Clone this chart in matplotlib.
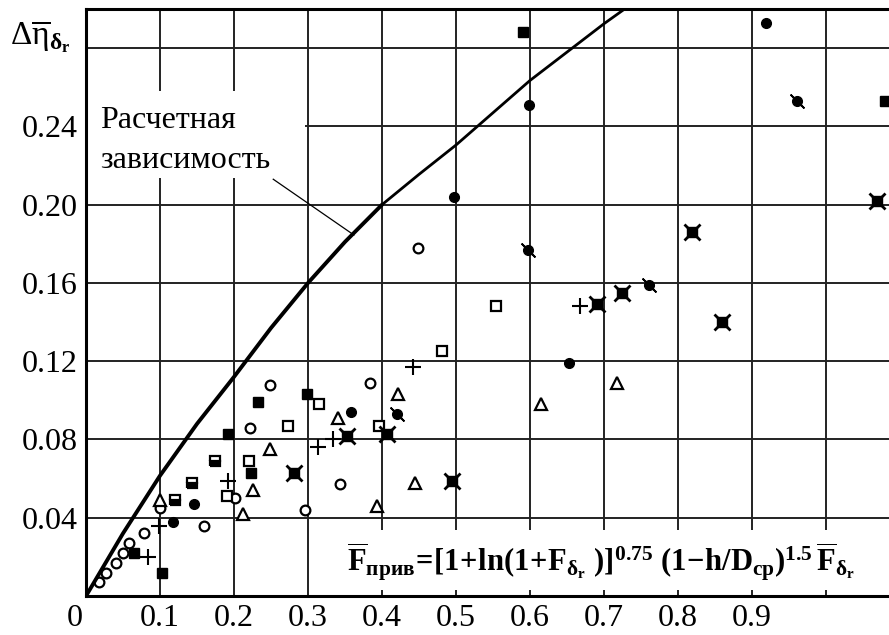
import matplotlib
matplotlib.use("Agg")
import matplotlib.pyplot as plt
from matplotlib.patches import Rectangle
from matplotlib.transforms import ScaledTranslation

plt.rcParams['font.family'] = ['Liberation Serif', 'DejaVu Serif']
plt.rcParams['mathtext.fontset'] = 'custom'
plt.rcParams['mathtext.rm'] = 'Liberation Serif:bold'
plt.rcParams['mathtext.bf'] = 'Liberation Serif:bold'
plt.rcParams['mathtext.it'] = 'Liberation Serif'
plt.rcParams['mathtext.default'] = 'rm'

# ---- data ----
curve_x = [0, 0.05, 0.1, 0.15, 0.2, 0.25, 0.3, 0.35, 0.4, 0.45, 0.5, 0.55, 0.6, 0.65, 0.7, 0.75]
curve_y = [0, 0.032, 0.0615, 0.088, 0.112, 0.137, 0.160, 0.181, 0.200, 0.2155, 0.2305, 0.247,
           0.2635, 0.278, 0.2925, 0.306]

filled_circle_x = [0.497, 0.599, 0.653, 0.919, 0.358, 0.118, 0.146]
filled_circle_y = [0.204, 0.251, 0.119, 0.293, 0.094, 0.038, 0.047]

slash_circle_x = [0.597, 0.761, 0.961, 0.420]
slash_circle_y = [0.177, 0.159, 0.253, 0.093]

filled_square_x = [0.590, 0.233, 0.298, 0.192, 0.223, 0.065, 0.103, 1.080]
filled_square_y = [0.288, 0.099, 0.103, 0.083, 0.063, 0.022, 0.012, 0.253]

half_square_x = [0.174, 0.143, 0.120]
half_square_y = [0.069, 0.058, 0.049]

open_square_x = [0.554, 0.481, 0.315, 0.273, 0.220, 0.396, 0.190]
open_square_y = [0.148, 0.125, 0.098, 0.087, 0.069, 0.087, 0.051]

open_circle_x = [0.449, 0.384, 0.249, 0.222, 0.343, 0.201, 0.296, 0.160, 0.100,
                 0.058, 0.050, 0.041, 0.027, 0.018, 0.078]
open_circle_y = [0.178, 0.109, 0.108, 0.086, 0.057, 0.050, 0.044, 0.036, 0.045,
                 0.027, 0.022, 0.017, 0.012, 0.007, 0.032]

triangle_x = [0.718, 0.615, 0.422, 0.341, 0.445, 0.393, 0.249, 0.226, 0.212, 0.100]
triangle_y = [0.109, 0.098, 0.103, 0.091, 0.058, 0.046, 0.075, 0.054, 0.042, 0.049]

plus_x = [0.668, 0.442, 0.334, 0.314, 0.192, 0.099, 0.084]
plus_y = [0.148, 0.117, 0.080, 0.076, 0.059, 0.036, 0.020]

xstar_x = [0.690, 0.724, 0.819, 0.494, 0.859, 1.069, 0.353, 0.407, 0.281]
xstar_y = [0.149, 0.155, 0.186, 0.059, 0.140, 0.202, 0.082, 0.083, 0.063]

x_ticks = [0, 0.1, 0.2, 0.3, 0.4, 0.5, 0.6, 0.7, 0.8, 0.9, 1.0]
x_labels = ['0', '0.1', '0.2', '0.3', '0.4', '0.5', '0.6', '0.7', '0.8', '0.9', '']
y_ticks = [0, 0.04, 0.08, 0.12, 0.16, 0.20, 0.24, 0.28]
y_labels = ['', '0.04', '0.08', '0.12', '0.16', '0.20', '0.24', '']

curve_label = 'Расчетная\nзависимость'
formula = (r'$\overline{F}_{прив}\!=\![1\!+\!\ln(1\!+\!F_{\delta_r}\ )]^{0.75}\ '
           r'(1\!-\!h/D_{ср})^{1.5}\,\overline{F}_{\delta_r}$')
ylabel = r'Δ$\overline{\mathit{η}}_{\mathbf{δ_r}}$'

# ---- figure ----
fig = plt.figure(figsize=(8.89, 6.35), dpi=100)
ax = fig.add_axes([86/889, 39/635, 1 - 86/889, (596 - 9)/635])
ax.set_xlim(0, 1.085)
ax.set_ylim(0, 0.300)

ax.set_xticks(x_ticks)
ax.set_xticklabels(x_labels, fontsize=23)
ax.set_yticks(y_ticks)
ax.set_yticklabels(y_labels, fontsize=23)
ax.tick_params(length=0, pad=6)
lab0 = ax.get_xticklabels()[0]
lab0.set_transform(lab0.get_transform() + ScaledTranslation(-0.11, 0, fig.dpi_scale_trans))
ax.grid(True, color='#222222', linewidth=1.4, zorder=1)
ax.set_axisbelow(True)
for s in ['left', 'top', 'bottom']:
    ax.spines[s].set_linewidth(2.2)
ax.spines['right'].set_visible(False)

mk = dict(linestyle='none', zorder=4, clip_on=True)
ax.plot(open_circle_x, open_circle_y, marker='o', ms=7, mfc='white', mec='black', mew=1.6, **mk)
ax.plot(filled_circle_x, filled_circle_y, marker='o', ms=7, mfc='black', mec='black', **mk)
ax.plot(slash_circle_x, slash_circle_y, marker='o', ms=7, mfc='black', mec='black', **mk)
ax.plot(slash_circle_x, slash_circle_y, marker=(2, 2, 45), ms=14, mec='black', mew=1.3, **mk)
ax.plot(filled_square_x, filled_square_y, marker='s', ms=7, mfc='black', mec='black', **mk)
ax.plot(half_square_x, half_square_y, marker='s', ms=7, fillstyle='bottom', mfc='black',
        mfcalt='white', mec='black', mew=1.6, **mk)
ax.plot(open_square_x, open_square_y, marker='s', ms=7, mfc='white', mec='black', mew=1.6, **mk)
ax.plot(triangle_x, triangle_y, marker='^', ms=8, mfc='white', mec='black', mew=1.6, **mk)
ax.plot(plus_x, plus_y, marker='+', ms=12, mec='black', mew=1.5, **mk)
ax.plot(xstar_x, xstar_y, marker='x', ms=12, mec='black', mew=2.0, **mk)
ax.plot(xstar_x, xstar_y, marker='s', ms=6.5, mfc='black', mec='black', **mk)

# design curve: heavier lower part, lighter upper part (as in the original)
ax.plot(curve_x[:9], curve_y[:9], color='black', linewidth=2.8, zorder=5,
        solid_capstyle='round', solid_joinstyle='round')
ax.plot(curve_x[8:], curve_y[8:], color='black', linewidth=2.0, zorder=5,
        solid_capstyle='round', solid_joinstyle='round')

# label box and leader
ax.add_patch(Rectangle((0.0, 0.2136), 0.296, 0.0445, facecolor='white', edgecolor='none', zorder=2))
ax.text(0.019, 0.2330, curve_label, fontsize=23, ha='left', va='center', zorder=6,
        linespacing=1.5)
ax.plot([0.253, 0.362], [0.213, 0.1845], color='black', linewidth=0.9, zorder=6)

# formula box
ax.add_patch(Rectangle((0.343, 0.0031), 0.75, 0.0305, facecolor='white', edgecolor='none', zorder=2))
ax.text(0.352, 0.0175, formula, fontsize=22, ha='left', va='center', zorder=6)

# y label
fig.text(10/889, 1 - 45/635, ylabel, fontsize=24, ha='left', va='baseline')

fig.savefig('out.png', dpi=100)
